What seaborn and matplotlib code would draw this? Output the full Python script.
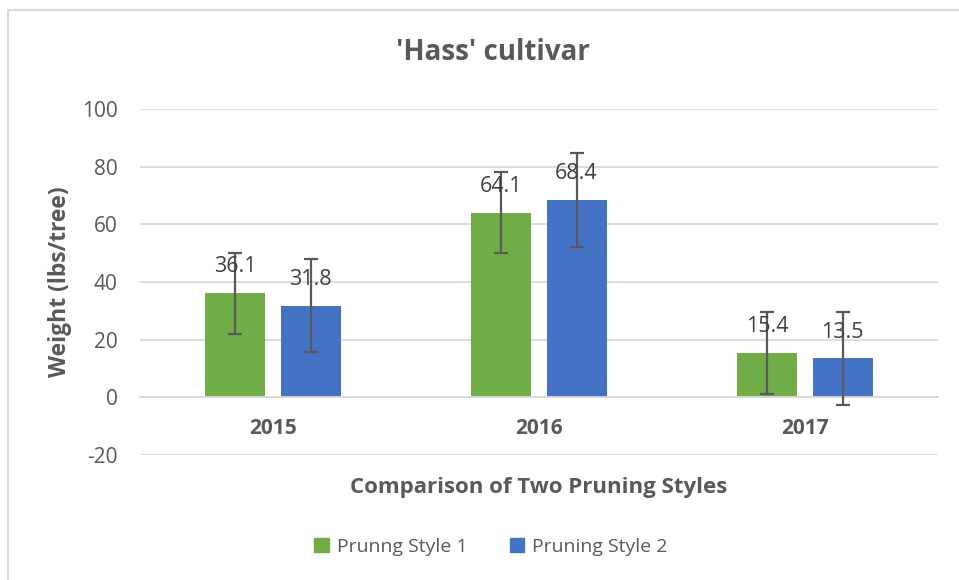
import matplotlib
matplotlib.use("Agg")
import matplotlib.pyplot as plt
from matplotlib.lines import Line2D
from matplotlib.patches import Patch
import pandas as pd
import seaborn as sns

# Data
years = ["2015", "2016", "2017"]
style_names = ["Prunng Style 1", "Pruning Style 2"]
style1_weight = [36.1, 64.1, 15.4]
style2_weight = [31.8, 68.4, 13.5]
style1_err = [14.1, 14.2, 14.1]
style2_err = [16.2, 16.2, 16.2]

df = pd.DataFrame({
    "year": years * 2,
    "style": [style_names[0]] * 3 + [style_names[1]] * 3,
    "weight": style1_weight + style2_weight,
})

green = "#70AD47"
blue = "#4472C4"
text_col = "#595959"
grid_col = "#D9D9D9"

sns.set_theme(style="white")
plt.rcParams["font.family"] = ["Open Sans", "DejaVu Sans"]
plt.rcParams["axes.unicode_minus"] = False

fig = plt.figure(figsize=(9.59, 5.80), dpi=100)
ax = fig.add_axes([140 / 959, 1 - 455 / 580, 798 / 959, 346 / 580])

sns.barplot(data=df, x="year", y="weight", hue="style", palette=[green, blue],
            width=0.564, gap=0.2, errorbar=None, ax=ax, legend=False,
            edgecolor="none", saturation=1)

# error bars and value labels
errs = [style1_err, style2_err]
for cont, err in zip(ax.containers, errs):
    for bar, e in zip(cont, err):
        cx = bar.get_x() + bar.get_width() / 2
        h = bar.get_height()
        ax.errorbar(cx, h, yerr=e, fmt="none", ecolor=text_col, elinewidth=1.6,
                    capsize=5, capthick=1.6, zorder=4)
        ax.annotate(f"{h:.1f}", (cx, h), xytext=(0, 19), textcoords="offset points",
                    ha="center", va="center", fontsize=15.5, color="#404040", zorder=5)

ax.set_ylim(-20, 100)
ax.set_xlim(-0.5, 2.5)
ax.set_yticks(range(-20, 101, 20))
ax.yaxis.grid(True, color=grid_col, linewidth=1.3)
ax.set_axisbelow(True)
for s in ["top", "right", "left"]:
    ax.spines[s].set_visible(False)
ax.spines["bottom"].set_position(("data", 0))
ax.spines["bottom"].set_color(grid_col)
ax.spines["bottom"].set_linewidth(1.3)
ax.tick_params(axis="y", length=0, pad=16, labelsize=15, labelcolor=text_col)
ax.tick_params(axis="x", length=0, pad=15, labelsize=15, labelcolor=text_col)
for lbl in ax.get_xticklabels():
    lbl.set_fontweight("bold")

ax.set_xlabel("Comparison of Two Pruning Styles", fontsize=16, fontweight="bold", color=text_col)
ax.xaxis.set_label_coords(0.5, -0.064)
ax.set_ylabel("Weight (lbs/tree)", fontsize=16.5, fontweight="bold", color=text_col)
ax.yaxis.set_label_coords(-0.085, 0.5)

fig.text(493 / 959, 1 - 52 / 580, "'Hass' cultivar", ha="center", va="center",
         fontsize=20, fontweight="bold", color=text_col)

handles = [Patch(color=green), Patch(color=blue)]
fig.legend(handles, style_names, loc="center", bbox_to_anchor=(491 / 959, 1 - 547 / 580),
           ncol=2, frameon=False, fontsize=14, labelcolor=text_col,
           handlelength=0.75, handleheight=0.75, handletextpad=0.4, columnspacing=2.2)

# light chart-area border (top and left visible in the original)
fig.add_artist(Line2D([8 / 959, 1], [1 - 10 / 580] * 2, color=grid_col, linewidth=1.5,
                      transform=fig.transFigure))
fig.add_artist(Line2D([8 / 959] * 2, [0, 1 - 10 / 580], color=grid_col, linewidth=1.5,
                      transform=fig.transFigure))

fig.savefig("out.png", dpi=100)
